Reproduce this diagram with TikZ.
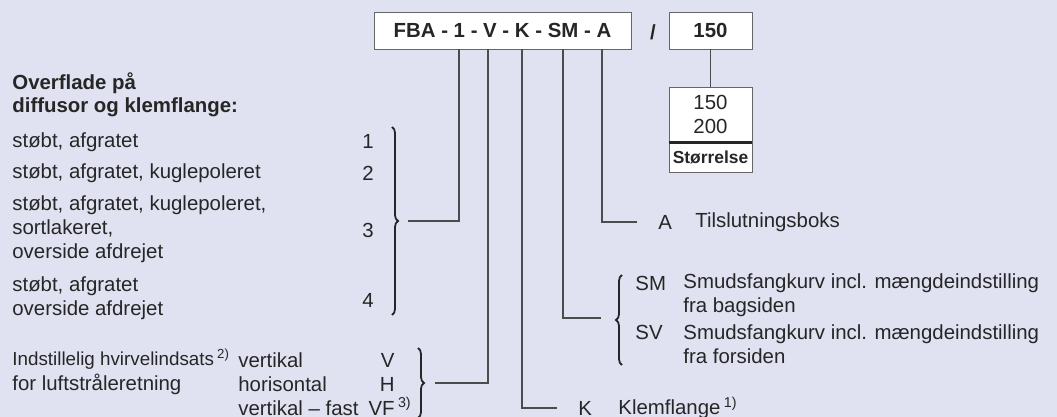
\documentclass[tikz,border=0pt]{standalone}
\usepackage{fontspec}
\setmainfont{Liberation Sans}
\usetikzlibrary{decorations.pathreplacing}
\definecolor{bgblue}{RGB}{224,226,241}

\begin{document}
\begin{tikzpicture}[
  x=0.5pt, y=-0.5pt,
  font=\fontsize{10.2}{12}\selectfont, text=black!85,
  codebox/.style={draw=black!60, fill=white, font=\fontsize{10.2}{12}\selectfont\bfseries,
                  inner sep=0pt, minimum height=18.5pt},
  listbox/.style={draw=black!60, fill=white, align=center, inner sep=0pt, minimum width=41.5pt},
  txt/.style={inner sep=0pt, anchor=west, align=left},
  wire/.style={draw=black!70, line width=0.7pt},
  brc/.style={draw=black!85, line width=0.9pt, decorate, decoration={brace, amplitude=3pt}}
]
\fill[bgblue] (0,0) rectangle (1057,417);
\useasboundingbox (0,0) rectangle (1057,417);

\node[codebox, minimum width=128.5pt] (code) at (502.5,30.5) {FBA - 1 - V - K - SM - A};
\node[font=\fontsize{10.2}{12}\selectfont\bfseries] (slash) at (653,32) {/};
\node[codebox, minimum width=41.5pt] (size) at (710.5,30.5) {150};
\node[listbox, minimum height=27.5pt, font=\fontsize{10.2}{12.2}\selectfont] (sizes) at (710.5,114.5) {150\\200};
\node[listbox, minimum height=15pt, font=\fontsize{8.7}{10}\selectfont\bfseries] (sizelab) at (710.5,157) {Størrelse};
\draw[draw=black!85, line width=1.2pt] (sizes.south west) -- (sizes.south east);
\draw[wire] (size) -- (sizes);

\node[txt, font=\fontsize{10.2}{11.5}\selectfont\bfseries] (head) at (12,95) {Overflade på\\diffusor og klemflange:};
\node[txt] (s1) at (12,142) {støbt, afgratet};
\node[txt] (s2) at (12,173) {støbt, afgratet, kuglepoleret};
\node[txt] (s3) at (12,229) {støbt, afgratet, kuglepoleret,\\sortlakeret,\\overside afdrejet};
\node[txt] (s4) at (12,298) {støbt, afgratet\\overside afdrejet};
\node (n1) at (368,141) {1};
\node (n2) at (368,173) {2};
\node (n3) at (368,230) {3};
\node (n4) at (368,300) {4};
\draw[brc] (392,127) -- (392,315);

\node[txt, font=\fontsize{10.2}{12.5}\selectfont] (turn) at (12,372) {{\fontsize{9.4}{12.5}\selectfont Indstillelig hvirvelindsats\,\textsuperscript{2)}}\\for luftstråleretning};
\node[txt] (dirs) at (238,384) {vertikal\\horisontal\\vertikal -- fast};
\node[inner sep=0pt, anchor=east, align=right] (dcode) at (395,384) {V\\H\\VF\rlap{\,\textsuperscript{3)}}};
\draw[brc] (418,348) -- (418,418);

\node[txt] (aA) at (658,222) {A};
\node[txt] (aT) at (695,222) {Tilslutningsboks};
\node[txt] (sm) at (635,283) {SM};
\node[txt] (smT) at (683,295) {Smudsfangkurv incl. mængdeindstilling\\fra bagsiden};
\node[txt] (sv) at (635,332) {SV};
\node[txt] (svT) at (683,344) {Smudsfangkurv incl. mængdeindstilling\\fra forsiden};
\draw[brc] (622,365) -- (622,275);
\node[txt] (kK) at (578,408) {K};
\node[txt] (kT) at (618,408) {Klemflange\,\textsuperscript{1)}};

\coordinate (c1) at (459,221);
\coordinate (e1) at (408,221);
\coordinate (cV) at (488,383);
\coordinate (eV) at (435,383);
\coordinate (cK) at (522,408);
\coordinate (eK) at (557,408);
\coordinate (cS) at (563,318);
\coordinate (eS) at (601,318);
\coordinate (cA) at (602,222);
\coordinate (eA) at (637,222);
\draw[wire] (code.south -| c1) -- (c1) -- (e1);
\draw[wire] (code.south -| cV) -- (cV) -- (eV);
\draw[wire] (code.south -| cK) -- (cK) -- (eK);
\draw[wire] (code.south -| cS) -- (cS) -- (eS);
\draw[wire] (code.south -| cA) -- (cA) -- (eA);
\end{tikzpicture}
\end{document}
